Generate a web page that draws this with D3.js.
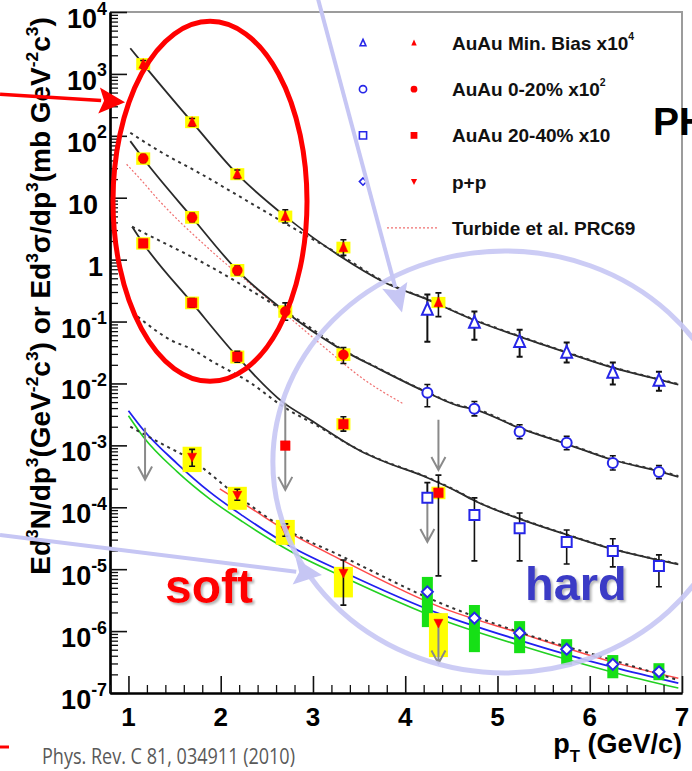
<!DOCTYPE html>
<html>
<head>
<meta charset="utf-8">
<script src="https://cdn.jsdelivr.net/npm/d3@7/dist/d3.min.js"></script>
<style>
  html, body { margin: 0; padding: 0; background: #ffffff; }
  svg { display: block; }
  text { font-family: "Liberation Sans", Arial, Helvetica, sans-serif; }
</style>
</head>
<body>
<svg id="chart" width="692" height="771"></svg>
<script>
// ---------------- data ----------------
// axis ticks
const xMajor = [1, 2, 3, 4, 5, 6, 7];
const yExponents = [4, 3, 2, 1, 0, -1, -2, -3, -4, -5, -6, -7];

// AuAu min. bias (x10^4): virtual photons (red triangles, yellow syst. boxes)
const mbVirtual = [
  { pt: 1.16, v: 1440,  err: [1250, 1650],  sys: [1150, 1800] },
  { pt: 1.69, v: 166,   err: [145, 190],    sys: [133, 207] },
  { pt: 2.18, v: 24,    err: [20.5, 28],    sys: [19.2, 30] },
  { pt: 2.70, v: 5.0,   err: [3.9, 6.4],    sys: [4.0, 6.2] },
  { pt: 3.33, v: 1.57,  err: [1.17, 2.1],   sys: [1.26, 1.95] },
  { pt: 4.36, v: 0.203, err: [0.12, 0.29],  sys: [0.165, 0.25] }
];
// AuAu min. bias (x10^4): real photons (blue open triangles)
const mbReal = [
  { pt: 4.24, v: 0.156,  err: [0.047, 0.273] },
  { pt: 4.75, v: 0.096,  err: [0.051, 0.145] },
  { pt: 5.24, v: 0.047,  err: [0.027, 0.074] },
  { pt: 5.75, v: 0.0315, err: [0.0217, 0.046] },
  { pt: 6.25, v: 0.015,  err: [0.0096, 0.0217] },
  { pt: 6.75, v: 0.0111, err: [0.0076, 0.0155] }
];
// AuAu 0-20% (x10^2)
const cent0Virtual = [
  { pt: 1.16, v: 43,    err: [37, 50],        sys: [34, 54] },
  { pt: 1.69, v: 4.8,   err: [4.1, 5.6],      sys: [3.8, 6.1] },
  { pt: 2.18, v: 0.67,  err: [0.57, 0.79],    sys: [0.53, 0.85] },
  { pt: 2.70, v: 0.145, err: [0.105, 0.2],    sys: [0.115, 0.183] },
  { pt: 3.33, v: 0.029, err: [0.021, 0.038],  sys: [0.023, 0.037] }
];
const cent0Real = [
  { pt: 4.24, v: 0.0071,  err: [0.0042, 0.0096] },
  { pt: 4.75, v: 0.0039,  err: [0.0030, 0.0051] },
  { pt: 5.24, v: 0.00166, err: [0.00128, 0.00215] },
  { pt: 5.75, v: 0.0011,  err: [0.00085, 0.0014] },
  { pt: 6.25, v: 0.00052, err: [0.0004, 0.00068] },
  { pt: 6.75, v: 0.00037, err: [0.00029, 0.00047] }
];
// AuAu 20-40% (x10)
const cent20Virtual = [
  { pt: 1.16, v: 1.83,    err: [1.6, 2.1],         sys: [1.45, 2.3] },
  { pt: 1.69, v: 0.2,     err: [0.17, 0.235],      sys: [0.158, 0.253] },
  { pt: 2.18, v: 0.027,   err: [0.022, 0.033],     sys: [0.021, 0.034] },
  { pt: 2.70, v: 9.9e-4,  err: null,               sys: null },
  { pt: 3.33, v: 0.0022,  err: [0.0017, 0.0029],   sys: [0.00175, 0.00275] },
  { pt: 4.36, v: 1.71e-4, err: [7.8e-6, 3.3e-4],   sys: [1.35e-4, 2.15e-4] }
];
const cent20Real = [
  { pt: 4.24, v: 1.42e-4, err: [1.42e-4, 2.5e-4] },
  { pt: 4.75, v: 7.5e-5,  err: [1.36e-5, 1.42e-4] },
  { pt: 5.24, v: 4.6e-5,  err: [1.36e-5, 8.1e-5] },
  { pt: 5.75, v: 2.75e-5, err: [1.21e-5, 4.3e-5] },
  { pt: 6.25, v: 1.97e-5, err: [1.09e-5, 3.1e-5] },
  { pt: 6.75, v: 1.13e-5, err: [5.2e-6, 1.7e-5] }
];
// p+p
const ppVirtual = [
  { pt: 1.69, v: 6.5e-4,  err: [4.6e-4, 8.6e-4],   sys: [3.7e-4, 9.5e-4] },
  { pt: 2.18, v: 1.58e-4, err: [1.3e-4, 1.95e-4],  sys: [9.1e-5, 2.14e-4] },
  { pt: 2.70, v: 4.3e-5,  err: [3.4e-5, 5.4e-5],   sys: [2.47e-5, 6.25e-5] },
  { pt: 3.33, v: 8.7e-6,  err: [2.63e-6, 1.41e-5], sys: [3.5e-6, 1.09e-5] },
  { pt: 4.36, v: 1.35e-6, err: null,               sys: [3.8e-7, 1.95e-6] }
];
const ppReal = [
  { pt: 4.24, v: 4.3e-6,  sys: [1.16e-6, 7.5e-6] },
  { pt: 4.75, v: 1.62e-6, sys: [4.57e-7, 2.64e-6] },
  { pt: 5.24, v: 9.3e-7,  sys: [4.4e-7, 1.45e-6] },
  { pt: 5.75, v: 5.1e-7,  sys: [2.82e-7, 7.4e-7] },
  { pt: 6.25, v: 2.9e-7,  sys: [1.73e-7, 4.1e-7] },
  { pt: 6.75, v: 2.2e-7,  sys: [1.61e-7, 3.03e-7] }
];
// upper limits (grey arrows): from, to
const upperLimits = [
  { pt: 1.18, from: 1.93e-3, to: 2.8e-4 },
  { pt: 2.70, from: 4.9e-3,  to: 1.91e-4 },
  { pt: 4.24, from: 2.5e-4,  to: 2.75e-5 },
  { pt: 4.36, from: 2.6e-3,  to: 4.0e-4 },
  { pt: 4.36, from: 1.35e-6, to: 3.0e-7 }
];

// fit curves: [pT, yield]
const mbFit = [[1.02, 2600], [1.16, 1440], [1.69, 166], [2.18, 24], [2.70, 5.0], [3.30, 1.12], [3.76, 0.44],
  [4.24, 0.227], [4.73, 0.108], [5.24, 0.057], [5.75, 0.0315], [6.25, 0.018], [6.75, 0.0115], [6.96, 0.0096]];
const mbScaledPP = [[1.02, 112], [1.34, 56], [1.78, 24.5], [2.32, 8.3], [2.86, 2.8], [3.30, 1.18], [3.76, 0.45],
  [4.24, 0.23], [4.73, 0.11], [5.24, 0.058], [5.75, 0.032], [6.25, 0.0183], [6.75, 0.0117], [6.96, 0.0098]];
const cent0Fit = [[1.02, 82], [1.16, 43], [1.69, 4.8], [2.18, 0.67], [2.70, 0.145], [3.26, 0.039], [3.73, 0.0167],
  [4.24, 0.0071], [4.59, 0.0043], [4.73, 0.0039], [5.24, 0.0019], [5.75, 0.00105], [6.25, 0.00058], [6.75, 0.00038], [6.96, 0.00031]];
const cent0ScaledPP = [[1.04, 3.4], [1.16, 2.75], [1.88, 0.78], [2.61, 0.175], [2.97, 0.08], [3.26, 0.04], [3.73, 0.017],
  [4.24, 0.0072], [4.59, 0.0044], [4.73, 0.004], [5.24, 0.00193], [5.75, 0.00107], [6.25, 0.00059], [6.75, 0.00039], [6.96, 0.00032]];
const cent20Fit = [[1.04, 3.4], [1.16, 1.83], [1.69, 0.2], [2.18, 0.027], [2.68, 0.0049], [2.97, 0.0026], [3.51, 0.00082],
  [3.73, 0.00058], [4.24, 0.0003], [4.59, 0.000171], [4.73, 0.000132], [5.24, 6.5e-5], [5.75, 3.6e-5], [6.25, 2.1e-5], [6.75, 1.4e-5], [6.96, 1.2e-5]];
const cent20ScaledPP = [[1.10, 0.12], [1.45, 0.051], [1.70, 0.035], [1.88, 0.024], [2.32, 0.0103], [2.68, 0.0042], [3.04, 0.0021],
  [3.51, 0.00083], [3.73, 0.00059], [4.24, 0.000305], [4.59, 0.000174], [4.73, 0.000134], [5.24, 6.6e-5], [5.75, 3.65e-5], [6.25, 2.13e-5], [6.75, 1.42e-5], [6.96, 1.22e-5]];
const turbide = [[0.98, 34.7], [1.13, 19.9], [1.34, 8.75], [1.88, 1.46], [2.43, 0.294], [2.86, 0.083], [3.22, 0.029], [3.51, 0.0129], [3.98, 0.0047]];
// p+p calculations
const ppBlue = [[1.00, 3.63e-3], [1.16, 1.79e-3], [1.53, 5.04e-4], [1.88, 1.77e-4], [2.24, 7.26e-5], [2.75, 2.37e-5], [3.33, 9.0e-6],
  [4.38, 1.88e-6], [5.24, 7.1e-7], [6.25, 2.61e-7], [6.96, 1.44e-7]];
const ppGreen = [[1.00, 3.01e-3], [1.16, 1.38e-3], [1.53, 3.74e-4], [1.88, 1.37e-4], [2.24, 5.8e-5], [2.75, 1.97e-5], [3.33, 7.5e-6],
  [4.38, 1.56e-6], [5.24, 5.9e-7], [6.25, 2.17e-7], [6.96, 1.2e-7]];
const ppRed = [[1.99, 1.99e-4], [2.32, 9.8e-5], [2.75, 3.85e-5], [3.33, 1.36e-5], [4.38, 2.44e-6], [5.24, 9.3e-7], [6.25, 3.15e-7], [6.96, 1.73e-7]];
const ppDashed = [[1.02, 2.0e-3], [1.34, 1.1e-3], [1.68, 5.85e-4], [2.18, 1.53e-4], [2.70, 4.47e-5], [3.33, 1.57e-5],
  [4.38, 2.84e-6], [5.24, 9.6e-7], [6.25, 3.4e-7], [6.96, 1.61e-7]];

// ---------------- scales ----------------
const svg = d3.select("#chart");
const plot = { left: 110, right: 682, top: 12, bottom: 693 };
const x = d3.scaleLinear().domain([0.8, 7]).range([plot.left, plot.right]);
const y = d3.scaleLog().domain([1e-7, 1e4]).range([plot.bottom, plot.top]);

const RED = "#ff0000", BLUE = "#2626e8", YELLOW = "#ffff00", GREEN = "#16e016", GREY = "#8a8a8a", LAV = "#c6c6f4";

svg.append("rect").attr("width", 692).attr("height", 771).attr("fill", "#fff");

const defs = svg.append("defs");
const f = defs.append("filter").attr("id", "shadow").attr("x", "-20%").attr("y", "-20%").attr("width", "140%").attr("height", "140%");
f.append("feDropShadow").attr("dx", 2).attr("dy", 2).attr("stdDeviation", 1.2)
  .attr("flood-color", "#777").attr("flood-opacity", 0.55);

// rich text: parts with optional superscript / subscript
function rich(sel, parts, fs, opts = {}) {
  const scale = opts.scale || 0.62, raise = opts.raise || 0.42, drop = opts.drop || 0.28;
  let off = 0;
  parts.forEach(p => {
    const target = p.sup ? -raise * fs : p.sub ? drop * fs : 0;
    const ts = sel.append("tspan").text(p.t);
    if (target - off !== 0) ts.attr("dy", target - off);
    off = target;
    if (p.sup || p.sub) ts.attr("font-size", scale * fs);
  });
}

function markerPath(type, cx, cy, s) {
  switch (type) {
    case "tri":  return `M${cx},${cy - s}L${cx + s * 0.8},${cy + s * 0.75}L${cx - s * 0.8},${cy + s * 0.75}Z`;
    case "dtri": return `M${cx},${cy + s}L${cx + s * 0.9},${cy - s * 0.75}L${cx - s * 0.9},${cy - s * 0.75}Z`;
    case "sq":   return `M${cx - s},${cy - s}h${2 * s}v${2 * s}h${-2 * s}Z`;
    case "dia":  return `M${cx},${cy - s}L${cx + s},${cy}L${cx},${cy + s}L${cx - s},${cy}Z`;
    default:     return `M${cx - s},${cy}a${s},${s} 0 1,0 ${2 * s},0a${s},${s} 0 1,0 ${-2 * s},0Z`;
  }
}

// ---------------- frame ----------------
svg.append("path")
  .attr("d", `M${plot.left},${plot.top}H${plot.right}V${plot.bottom}`)
  .attr("fill", "none").attr("stroke", "#9c9c9c").attr("stroke-width", 2);

// ---------------- curves ----------------
const line = d3.line().x(d => x(d[0])).y(d => y(d[1])).curve(d3.curveMonotoneX);
const curves = svg.append("g");
const curveDefs = [
  { d: turbide,        stroke: "#f07070", w: 1.2, dash: "2,2" },
  { d: ppGreen,        stroke: "#22d022", w: 1.6 },
  { d: ppBlue,         stroke: "#2020f0", w: 1.8 },
  { d: ppRed,          stroke: "#ff4a4a", w: 1.5 },
  { d: ppDashed,       stroke: "#333", w: 2, dash: "3,4" },
  { d: mbFit,          stroke: "#2a2a2a", w: 1.8 },
  { d: cent0Fit,       stroke: "#2a2a2a", w: 1.8 },
  { d: cent20Fit,      stroke: "#2a2a2a", w: 1.8 },
  { d: mbScaledPP,     stroke: "#333", w: 2, dash: "3,4" },
  { d: cent0ScaledPP,  stroke: "#333", w: 2, dash: "3,4" },
  { d: cent20ScaledPP, stroke: "#333", w: 2, dash: "3,4" }
];
curveDefs.forEach(c => {
  curves.append("path").attr("d", line(c.d)).attr("fill", "none")
    .attr("stroke", c.stroke).attr("stroke-width", c.w)
    .attr("stroke-dasharray", c.dash || null);
});

// ---------------- data layers ----------------
const dataG = svg.append("g");
function sysBoxes(data, fill, halfW) {
  dataG.selectAll(null).data(data.filter(d => d.sys)).enter().append("rect")
    .attr("x", d => x(d.pt) - halfW).attr("width", 2 * halfW)
    .attr("y", d => y(d.sys[1])).attr("height", d => y(d.sys[0]) - y(d.sys[1]))
    .attr("fill", fill);
}
function errBars(data, w) {
  data.filter(d => d.err).forEach(d => {
    const cx = x(d.pt), y0 = y(d.err[0]), y1 = y(d.err[1]);
    dataG.append("path")
      .attr("d", `M${cx},${y0}V${y1}M${cx - 3},${y0}H${cx + 3}M${cx - 3},${y1}H${cx + 3}`)
      .attr("stroke", "#111").attr("stroke-width", w || 1.6).attr("fill", "none");
  });
}
function markers(data, type, s, filled, color) {
  dataG.selectAll(null).data(data).enter().append("path")
    .attr("d", d => markerPath(type, x(d.pt), y(d.v), s))
    .attr("fill", filled ? color : "#fff")
    .attr("stroke", color).attr("stroke-width", filled ? 0.5 : 2);
}

// systematic boxes
sysBoxes(ppReal, GREEN, 5.5);
sysBoxes(ppVirtual, YELLOW, 9.5);
sysBoxes(mbVirtual, YELLOW, 7);
sysBoxes(cent0Virtual, YELLOW, 7);
sysBoxes(cent20Virtual, YELLOW, 7);

// upper-limit arrows
upperLimits.forEach(u => {
  const cx = x(u.pt), y0 = y(u.from), y1 = y(u.to);
  dataG.append("path")
    .attr("d", `M${cx},${y0}V${y1}M${cx - 7},${y1 - 13}L${cx},${y1}L${cx + 7},${y1 - 13}`)
    .attr("fill", "none").attr("stroke", GREY).attr("stroke-width", 2);
});

// error bars
errBars(mbVirtual); errBars(cent0Virtual); errBars(cent20Virtual); errBars(ppVirtual);
errBars(mbReal, 2); errBars(cent0Real); errBars(cent20Real);

// markers
markers(mbVirtual, "tri", 5.5, true, RED);
markers(cent0Virtual, "circ", 5, true, RED);
markers(cent20Virtual, "sq", 4.8, true, RED);
markers(ppVirtual, "dtri", 5, true, RED);
markers(mbReal, "tri", 6.8, false, BLUE);
markers(cent0Real, "circ", 5, false, BLUE);
markers(cent20Real, "sq", 5, false, BLUE);
markers(ppReal, "dia", 5.5, false, BLUE);

// ---------------- axes ----------------
const yMinor = [];
for (let e = -7; e < 4; e++) for (let m = 2; m <= 9; m++) yMinor.push(m * Math.pow(10, e));
const xMinor = d3.range(8, 71, 2).map(d => d / 10).filter(d => !xMajor.includes(d));

function styleAxis(g, w) {
  g.selectAll("path.domain").attr("stroke", "#000").attr("stroke-width", 2.2);
  g.selectAll(".tick line").attr("stroke", "#111").attr("stroke-width", w);
  g.selectAll(".tick text").remove();
}
const yMajorVals = yExponents.map(e => Math.pow(10, e));
svg.append("g").attr("transform", `translate(${plot.left},0)`)
  .call(d3.axisRight(y).tickValues(yMinor).tickSize(8).tickSizeOuter(0).tickFormat(() => ""))
  .call(g => styleAxis(g, 1.3));
svg.append("g").attr("transform", `translate(${plot.left},0)`)
  .call(d3.axisRight(y).tickValues(yMajorVals).tickSize(17).tickSizeOuter(0).tickFormat(() => ""))
  .call(g => styleAxis(g, 1.6));
svg.append("g").attr("transform", `translate(0,${plot.bottom})`)
  .call(d3.axisBottom(x).tickValues(xMinor).tickSizeInner(-8).tickSizeOuter(0).tickFormat(() => ""))
  .call(g => styleAxis(g, 1.3));
svg.append("g").attr("transform", `translate(0,${plot.bottom})`)
  .call(d3.axisBottom(x).tickValues(xMajor).tickSizeInner(-17).tickSizeOuter(0).tickFormat(() => ""))
  .call(g => styleAxis(g, 1.6));

// y tick labels
yExponents.forEach(e => {
  const yy = y(Math.pow(10, e));
  const t = svg.append("text").attr("text-anchor", "end")
    .attr("font-size", 27).attr("font-weight", "bold").attr("fill", "#000");
  if (e === 0) t.attr("x", 103).attr("y", yy + 16).text("1");
  else if (e === 1) t.attr("x", 98).attr("y", yy + 16).text("10");
  else { t.attr("x", 107).attr("y", yy + 16); rich(t, [{ t: "10" }, { t: String(e), sup: true }], 27, { scale: 0.66, raise: 0.5 }); }
});
// x tick labels
svg.selectAll(null).data(xMajor).enter().append("text")
  .attr("x", d => x(d)).attr("y", 726).attr("text-anchor", "middle")
  .attr("font-size", 26).attr("font-weight", "bold").text(d => d);

// axis titles
const xt = svg.append("text").attr("x", plot.right).attr("y", 753).attr("text-anchor", "end")
  .attr("font-size", 27).attr("font-weight", "bold");
rich(xt, [{ t: "p" }, { t: "T", sub: true }, { t: " (GeV/c)" }], 27, { scale: 0.62, drop: 0.35 });

const yt = svg.append("text").attr("transform", "translate(50,296) rotate(-90)")
  .attr("text-anchor", "middle").attr("font-size", 28).attr("font-weight", "bold");
rich(yt, [
  { t: "Ed" }, { t: "3", sup: true }, { t: "N/dp" }, { t: "3", sup: true }, { t: "(GeV" }, { t: "-2", sup: true },
  { t: "c" }, { t: "3", sup: true }, { t: ") or Ed" }, { t: "3", sup: true }, { t: "\u03c3/dp" }, { t: "3", sup: true },
  { t: "(mb GeV" }, { t: "-2", sup: true }, { t: "c" }, { t: "3", sup: true }, { t: ")" }
], 28, { scale: 0.62, raise: 0.42 });

// ---------------- legend ----------------
const legendEntries = [
  { open: "tri",  filled: "tri",  parts: [{ t: "AuAu Min. Bias x10" }, { t: "4", sup: true }] },
  { open: "circ", filled: "circ", parts: [{ t: "AuAu 0-20% x10" }, { t: "2", sup: true }] },
  { open: "sq",   filled: "sq",   parts: [{ t: "AuAu 20-40% x10" }] },
  { open: "dia",  filled: "dtri", parts: [{ t: "p+p" }] },
  { line: true,                   parts: [{ t: "Turbide et al. PRC69" }] }
];
const leg = svg.append("g");
legendEntries.forEach((d, i) => {
  const ly = 43 + i * 46.2;
  if (d.line) {
    leg.append("line").attr("x1", 387).attr("x2", 438).attr("y1", ly).attr("y2", ly)
      .attr("stroke", "#f07070").attr("stroke-width", 1.2).attr("stroke-dasharray", "2,2");
  } else {
    leg.append("path").attr("d", markerPath(d.open, 363, ly, 3.6))
      .attr("fill", "#fff").attr("stroke", BLUE).attr("stroke-width", 1.6);
    leg.append("path").attr("d", markerPath(d.filled, 414, ly, 3.4)).attr("fill", RED);
  }
  const t = leg.append("text").attr("x", 452).attr("y", ly + 7)
    .attr("font-size", 19).attr("font-weight", "bold").attr("fill", "#111");
  rich(t, d.parts, 19, { scale: 0.55, raise: 0.55 });
});

// ---------------- annotations ----------------
const ann = svg.append("g");
// hard-region ellipse
ann.append("ellipse").attr("cx", x(5.08)).attr("cy", y(5.4e-4)).attr("rx", 232).attr("ry", 211)
  .attr("fill", "none").attr("stroke", LAV).attr("stroke-width", 5).attr("opacity", 0.9);

function arrow(g, p0, p1, color, w, headLen, headHalf) {
  const x0 = x(p0[0]), y0 = y(p0[1]), x1 = x(p1[0]), y1 = y(p1[1]);
  const L = Math.hypot(x1 - x0, y1 - y0), ux = (x1 - x0) / L, uy = (y1 - y0) / L;
  const bx = x1 - ux * headLen, by = y1 - uy * headLen;
  g.append("line").attr("x1", x0).attr("y1", y0).attr("x2", bx + ux * 2).attr("y2", by + uy * 2)
    .attr("stroke", color).attr("stroke-width", w);
  g.append("path")
    .attr("d", `M${x1},${y1}L${bx - uy * headHalf},${by + ux * headHalf}L${bx + ux * 5},${by + uy * 5}L${bx + uy * headHalf},${by - ux * headHalf}Z`)
    .attr("fill", color);
}
arrow(ann, [3.055, 1.62e4], [3.965, 0.14], LAV, 4, 28, 13);
arrow(ann, [-0.392, 3.57e-5], [3.098, 8.05e-6], LAV, 4, 28, 13);

// soft-region ellipse
ann.append("ellipse").attr("cx", x(1.884)).attr("cy", y(8.75)).attr("rx", 97).attr("ry", 180)
  .attr("fill", "none").attr("stroke", RED).attr("stroke-width", 5);
arrow(ann, [-0.392, 471], [0.963, 350], RED, 3.5, 26, 13);

// region labels
ann.append("text").attr("x", x(1.396)).attr("y", y(2.84e-6)).attr("font-size", 48).attr("font-weight", "bold")
  .attr("fill", RED).attr("filter", "url(#shadow)").text("soft");
ann.append("text").attr("x", x(5.298)).attr("y", y(3.18e-6)).attr("font-size", 47).attr("font-weight", "bold")
  .attr("fill", "#3a3ac6").attr("filter", "url(#shadow)").text("hard");

// experiment tag and reference
svg.append("text").attr("x", 653).attr("y", 135).attr("font-size", 39).attr("font-weight", "bold")
  .attr("fill", "#000").text("PHENIX");
svg.append("text").attr("x", 42).attr("y", 764).attr("font-size", 21)
  .style("font-family", "'Open Sans', 'Noto Sans', sans-serif").attr("fill", "#595959")
  .attr("textLength", 253).attr("lengthAdjust", "spacingAndGlyphs")
  .text("Phys. Rev. C 81, 034911 (2010)");
svg.append("line").attr("x1", 0).attr("x2", 9).attr("y1", 747).attr("y2", 747)
  .attr("stroke", RED).attr("stroke-width", 3);
</script>
</body>
</html>
